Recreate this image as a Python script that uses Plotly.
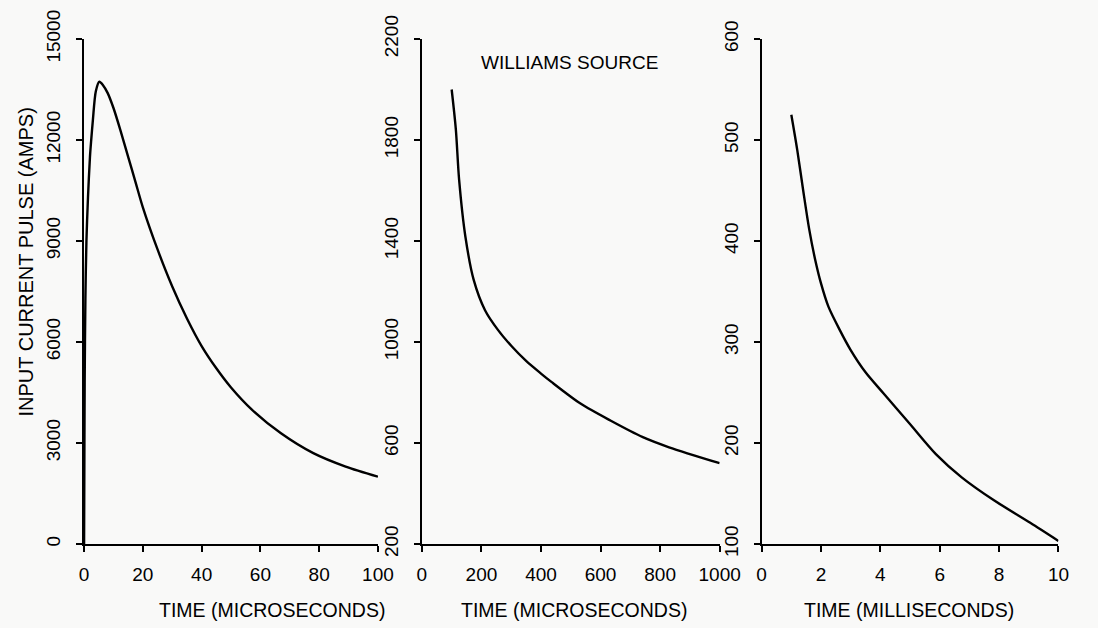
import plotly.graph_objects as go

# Panel 1: 0-100 microseconds
t1_us = [0, 0.1, 0.2, 0.45, 0.8, 1.33, 2.0, 2.4, 3.0, 4.0, 5.2, 6.5, 8.0, 10.0, 12.5, 15.0, 17.5,
         20.0, 25.0, 30.0, 35.0, 40.0, 45.0, 50.0, 57.0, 67.0, 78.0, 89.0, 100.0]
i1_amps = [0, 2500, 4800, 7300, 9000, 10300, 11500, 11970, 12600, 13450, 13730, 13620, 13400,
           12950, 12250, 11500, 10750, 10000, 8750, 7650, 6700, 5880, 5220, 4650, 4000, 3290,
           2700, 2300, 2000]

# Panel 2: 100-1000 microseconds
t2_us = [100, 114, 125, 146, 174, 212, 256, 300, 350, 400, 436, 534, 633, 742, 830, 1000]
i2_amps = [2000, 1842, 1643, 1418, 1246, 1126, 1047, 985, 925, 875, 841, 755, 689, 623, 583, 520]

# Panel 3: 1-10 milliseconds
t3_ms = [1.0, 1.2, 1.4, 1.6, 1.8, 2.0, 2.25, 2.63, 3.0, 3.5, 4.11, 4.99, 5.87, 6.74, 7.84,
         9.05, 10.0]
i3_amps = [525, 490, 450, 412, 382, 358, 335, 312, 292, 270, 249, 219, 189, 166, 143, 121, 103]

x1_ticks = [0, 20, 40, 60, 80, 100]
y1_ticks = [0, 3000, 6000, 9000, 12000, 15000]
x2_ticks = [0, 200, 400, 600, 800, 1000]
y2_ticks = [200, 600, 1000, 1400, 1800, 2200]
x3_ticks = [0, 2, 4, 6, 8, 10]
y3_ticks = [100, 200, 300, 400, 500, 600]

FONT = "Liberation Sans, Arial, sans-serif"
BG = "#f9f9f8"

fig = go.Figure()
line_style = dict(color="black", width=2.4, shape="spline", smoothing=0.8)
fig.add_trace(go.Scatter(x=t1_us, y=i1_amps, mode="lines", line=line_style, xaxis="x", yaxis="y"))
fig.add_trace(go.Scatter(x=t2_us, y=i2_amps, mode="lines", line=line_style, xaxis="x2", yaxis="y2"))
fig.add_trace(go.Scatter(x=t3_ms, y=i3_amps, mode="lines", line=line_style, xaxis="x3", yaxis="y3"))

W, H = 1098, 628
top, bottom = 39, 544

def xdom(a, b):
    return [a / W, b / W]

tick_font = dict(family=FONT, size=19, color="black")
common_x = dict(showgrid=False, zeroline=False, showline=True, linecolor="black", linewidth=2,
                ticks="outside", ticklen=6, tickwidth=2, tickcolor="black",
                ticklabelstandoff=6, tickfont=tick_font, fixedrange=True)
common_y = dict(showgrid=False, zeroline=False, showline=True, linecolor="black", linewidth=2,
                ticks="outside", ticklen=6, tickwidth=2, tickcolor="black", tickangle=-90,
                ticklabelstandoff=8, tickfont=tick_font, fixedrange=True)

def labels(vals):
    return [str(v) for v in vals]

fig.update_layout(
    width=W, height=H,
    margin=dict(l=0, r=0, t=top, b=H - bottom),
    paper_bgcolor=BG, plot_bgcolor=BG,
    showlegend=False,
    xaxis=dict(domain=xdom(81, 382), range=[0, 100], tickvals=x1_ticks, ticktext=labels(x1_ticks),
               anchor="y", **common_x),
    yaxis=dict(range=[0, 15000], tickvals=y1_ticks, ticktext=labels(y1_ticks), anchor="x", **common_y),
    xaxis2=dict(domain=xdom(427, 732), range=[0, 1000], tickvals=x2_ticks, ticktext=labels(x2_ticks),
                anchor="y2", **common_x),
    yaxis2=dict(range=[200, 2200], tickvals=y2_ticks, ticktext=labels(y2_ticks), anchor="x2", **common_y),
    xaxis3=dict(domain=xdom(775, 1079), range=[0, 10], tickvals=x3_ticks, ticktext=labels(x3_ticks),
                anchor="y3", **common_x),
    yaxis3=dict(range=[100, 600], tickvals=y3_ticks, ticktext=labels(y3_ticks), anchor="x3", **common_y),
)

ph = bottom - top
def py(pix):
    return (bottom - pix) / ph

ann_font = dict(family=FONT, size=19.5, color="black")
fig.add_annotation(text="TIME (MICROSECONDS)", xref="paper", yref="paper", x=273 / W, y=py(610),
                   showarrow=False, font=ann_font, xanchor="center", yanchor="middle")
fig.add_annotation(text="TIME (MICROSECONDS)", xref="paper", yref="paper", x=583 / W, y=py(610),
                   showarrow=False, font=ann_font, xanchor="center", yanchor="middle")
fig.add_annotation(text="TIME (MILLISECONDS)", xref="paper", yref="paper", x=926 / W, y=py(610),
                   showarrow=False, font=ann_font, xanchor="center", yanchor="middle")
fig.add_annotation(text="INPUT CURRENT PULSE (AMPS)", xref="paper", yref="paper", x=22 / W, y=py(262),
                   showarrow=False, font=dict(family=FONT, size=20, color="black"), textangle=-90,
                   xanchor="center", yanchor="middle")
fig.add_annotation(text="WILLIAMS SOURCE", xref="paper", yref="paper", x=578 / W, y=py(62),
                   showarrow=False, font=dict(family=FONT, size=19, color="black"),
                   xanchor="center", yanchor="middle")

fig.write_html("out.html")
